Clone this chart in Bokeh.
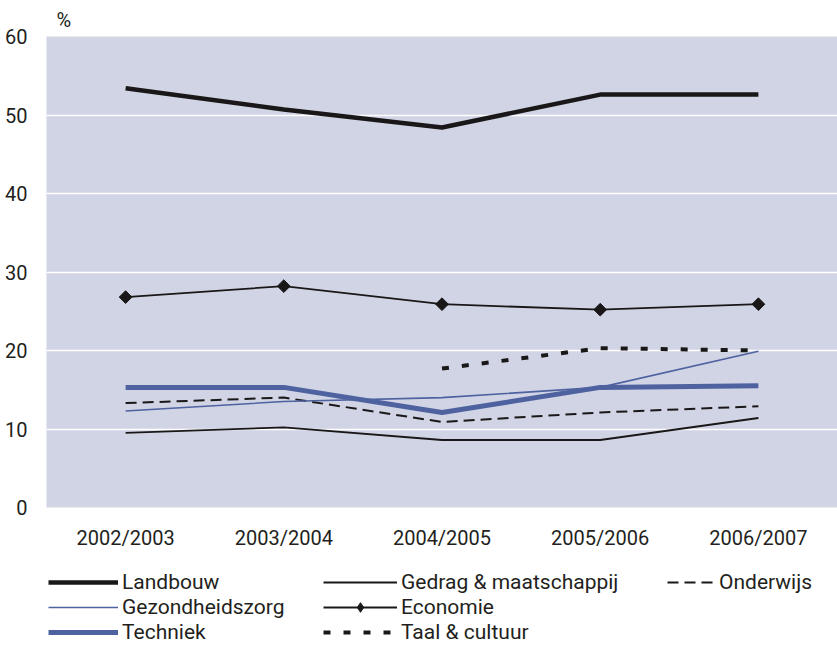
import math
from bokeh.plotting import figure
from bokeh.layouts import column
from bokeh.models import FixedTicker, Legend, LegendItem, Title
from bokeh.embed import file_html
from bokeh.resources import INLINE

years = ["2002/2003", "2003/2004", "2004/2005", "2005/2006", "2006/2007"]
landbouw = [53.4, 50.7, 48.4, 52.6, 52.6]
gedrag = [9.5, 10.2, 8.6, 8.6, 11.4]
onderwijs = [13.3, 14.0, 10.9, 12.1, 12.9]
gezondheidszorg = [12.3, 13.5, 14.0, 15.3, 19.9]
economie = [26.8, 28.2, 25.9, 25.2, 25.9]
techniek = [15.3, 15.3, 12.1, 15.3, 15.5]
taal = [float("nan"), float("nan"), 17.7, 20.3, 20.0]
y_ticks = [0, 10, 20, 30, 40, 50, 60]
grid_ticks = [10, 20, 30, 40, 50]

FONT = "Roboto"
TXT = "#231f20"
BLACK = "#1a1718"
BLUE = "#4f62a0"
BG = "#d0d4e4"

STYLES = {
    "Landbouw": dict(line_color=BLACK, line_width=4.5),
    "Gedrag & maatschappij": dict(line_color=BLACK, line_width=1.8),
    "Onderwijs": dict(line_color=BLACK, line_width=2, line_dash="11 6"),
    "Gezondheidszorg": dict(line_color=BLUE, line_width=1.6),
    "Economie": dict(line_color=BLACK, line_width=1.8),
    "Techniek": dict(line_color=BLUE, line_width=5),
    "Taal & cultuur": dict(line_color=BLACK, line_width=4, line_dash="7 13"),
}
SERIES = {
    "Landbouw": landbouw,
    "Gedrag & maatschappij": gedrag,
    "Onderwijs": onderwijs,
    "Gezondheidszorg": gezondheidszorg,
    "Economie": economie,
    "Techniek": techniek,
    "Taal & cultuur": taal,
}
MARKER = dict(marker="square", angle=math.pi / 4, size=9,
              fill_color=BLACK, line_color=BLACK)
LEG_MARKER = dict(marker="diamond", size=13, fill_color=BLACK, line_color=BLACK)

p = figure(width=837, height=557, x_range=years, y_range=(0, 60),
           output_backend="svg", toolbar_location=None,
           min_border_left=46, min_border_right=0, min_border_top=36,
           min_border_bottom=50,
           background_fill_color=BG, border_fill_color="white",
           outline_line_color=None)

p.title = Title(text="%", align="left", offset=10, standoff=9,
                text_font=FONT, text_font_size="20px", text_color=TXT,
                text_font_style="normal")

p.xgrid.grid_line_color = None
p.ygrid.ticker = FixedTicker(ticks=grid_ticks)
p.ygrid.grid_line_color = "white"
p.ygrid.grid_line_width = 1.5

p.yaxis.ticker = FixedTicker(ticks=y_ticks)
for ax in (p.xaxis[0], p.yaxis[0]):
    ax.axis_line_color = None
    ax.major_tick_line_color = None
    ax.minor_tick_line_color = None
    ax.major_label_text_font = FONT
    ax.major_label_text_font_size = "20px"
    ax.major_label_text_color = TXT
p.yaxis.major_label_standoff = 13
p.xaxis.major_label_standoff = 12

order = ["Landbouw", "Economie", "Gedrag & maatschappij", "Onderwijs",
         "Gezondheidszorg", "Techniek", "Taal & cultuur"]
for name in order:
    p.line(years, SERIES[name], **STYLES[name])
    if name == "Economie":
        p.scatter(years, economie, **MARKER)

# legend panel
lp = figure(width=837, height=97, x_range=(0, 1), y_range=(0, 1),
            output_backend="svg", toolbar_location=None,
            min_border=0, outline_line_color=None,
            background_fill_color="white", border_fill_color="white")
lp.axis.visible = False
lp.grid.visible = False

NAN = [float("nan")]
leg_r = {}
for name in STYLES:
    leg_r[name] = [lp.line(NAN, NAN, **STYLES[name])]
leg_r["Economie"].append(lp.scatter(NAN, NAN, **LEG_MARKER))

def make_legend(names, x, y, gw, gh=20):
    items = [LegendItem(label=n, renderers=leg_r[n]) for n in names]
    lg = Legend(items=items, location=(x, y), orientation="vertical",
                glyph_width=gw, glyph_height=gh, label_height=20,
                label_standoff=4, spacing=1, padding=0, margin=0,
                border_line_alpha=0, background_fill_alpha=0,
                label_text_font=FONT, label_text_font_size="21px",
                label_text_color=TXT, label_text_baseline="middle")
    lp.add_layout(lg, "center")

make_legend(["Landbouw", "Gezondheidszorg", "Techniek"], 2, 10, 70)
make_legend(["Gedrag & maatschappij", "Economie", "Taal & cultuur"], 277, 10, 74,
            gh=24)
make_legend(["Onderwijs"], 621, 60, 48)

open("out.html", "w").write(file_html(column(p, lp, spacing=0), INLINE))
